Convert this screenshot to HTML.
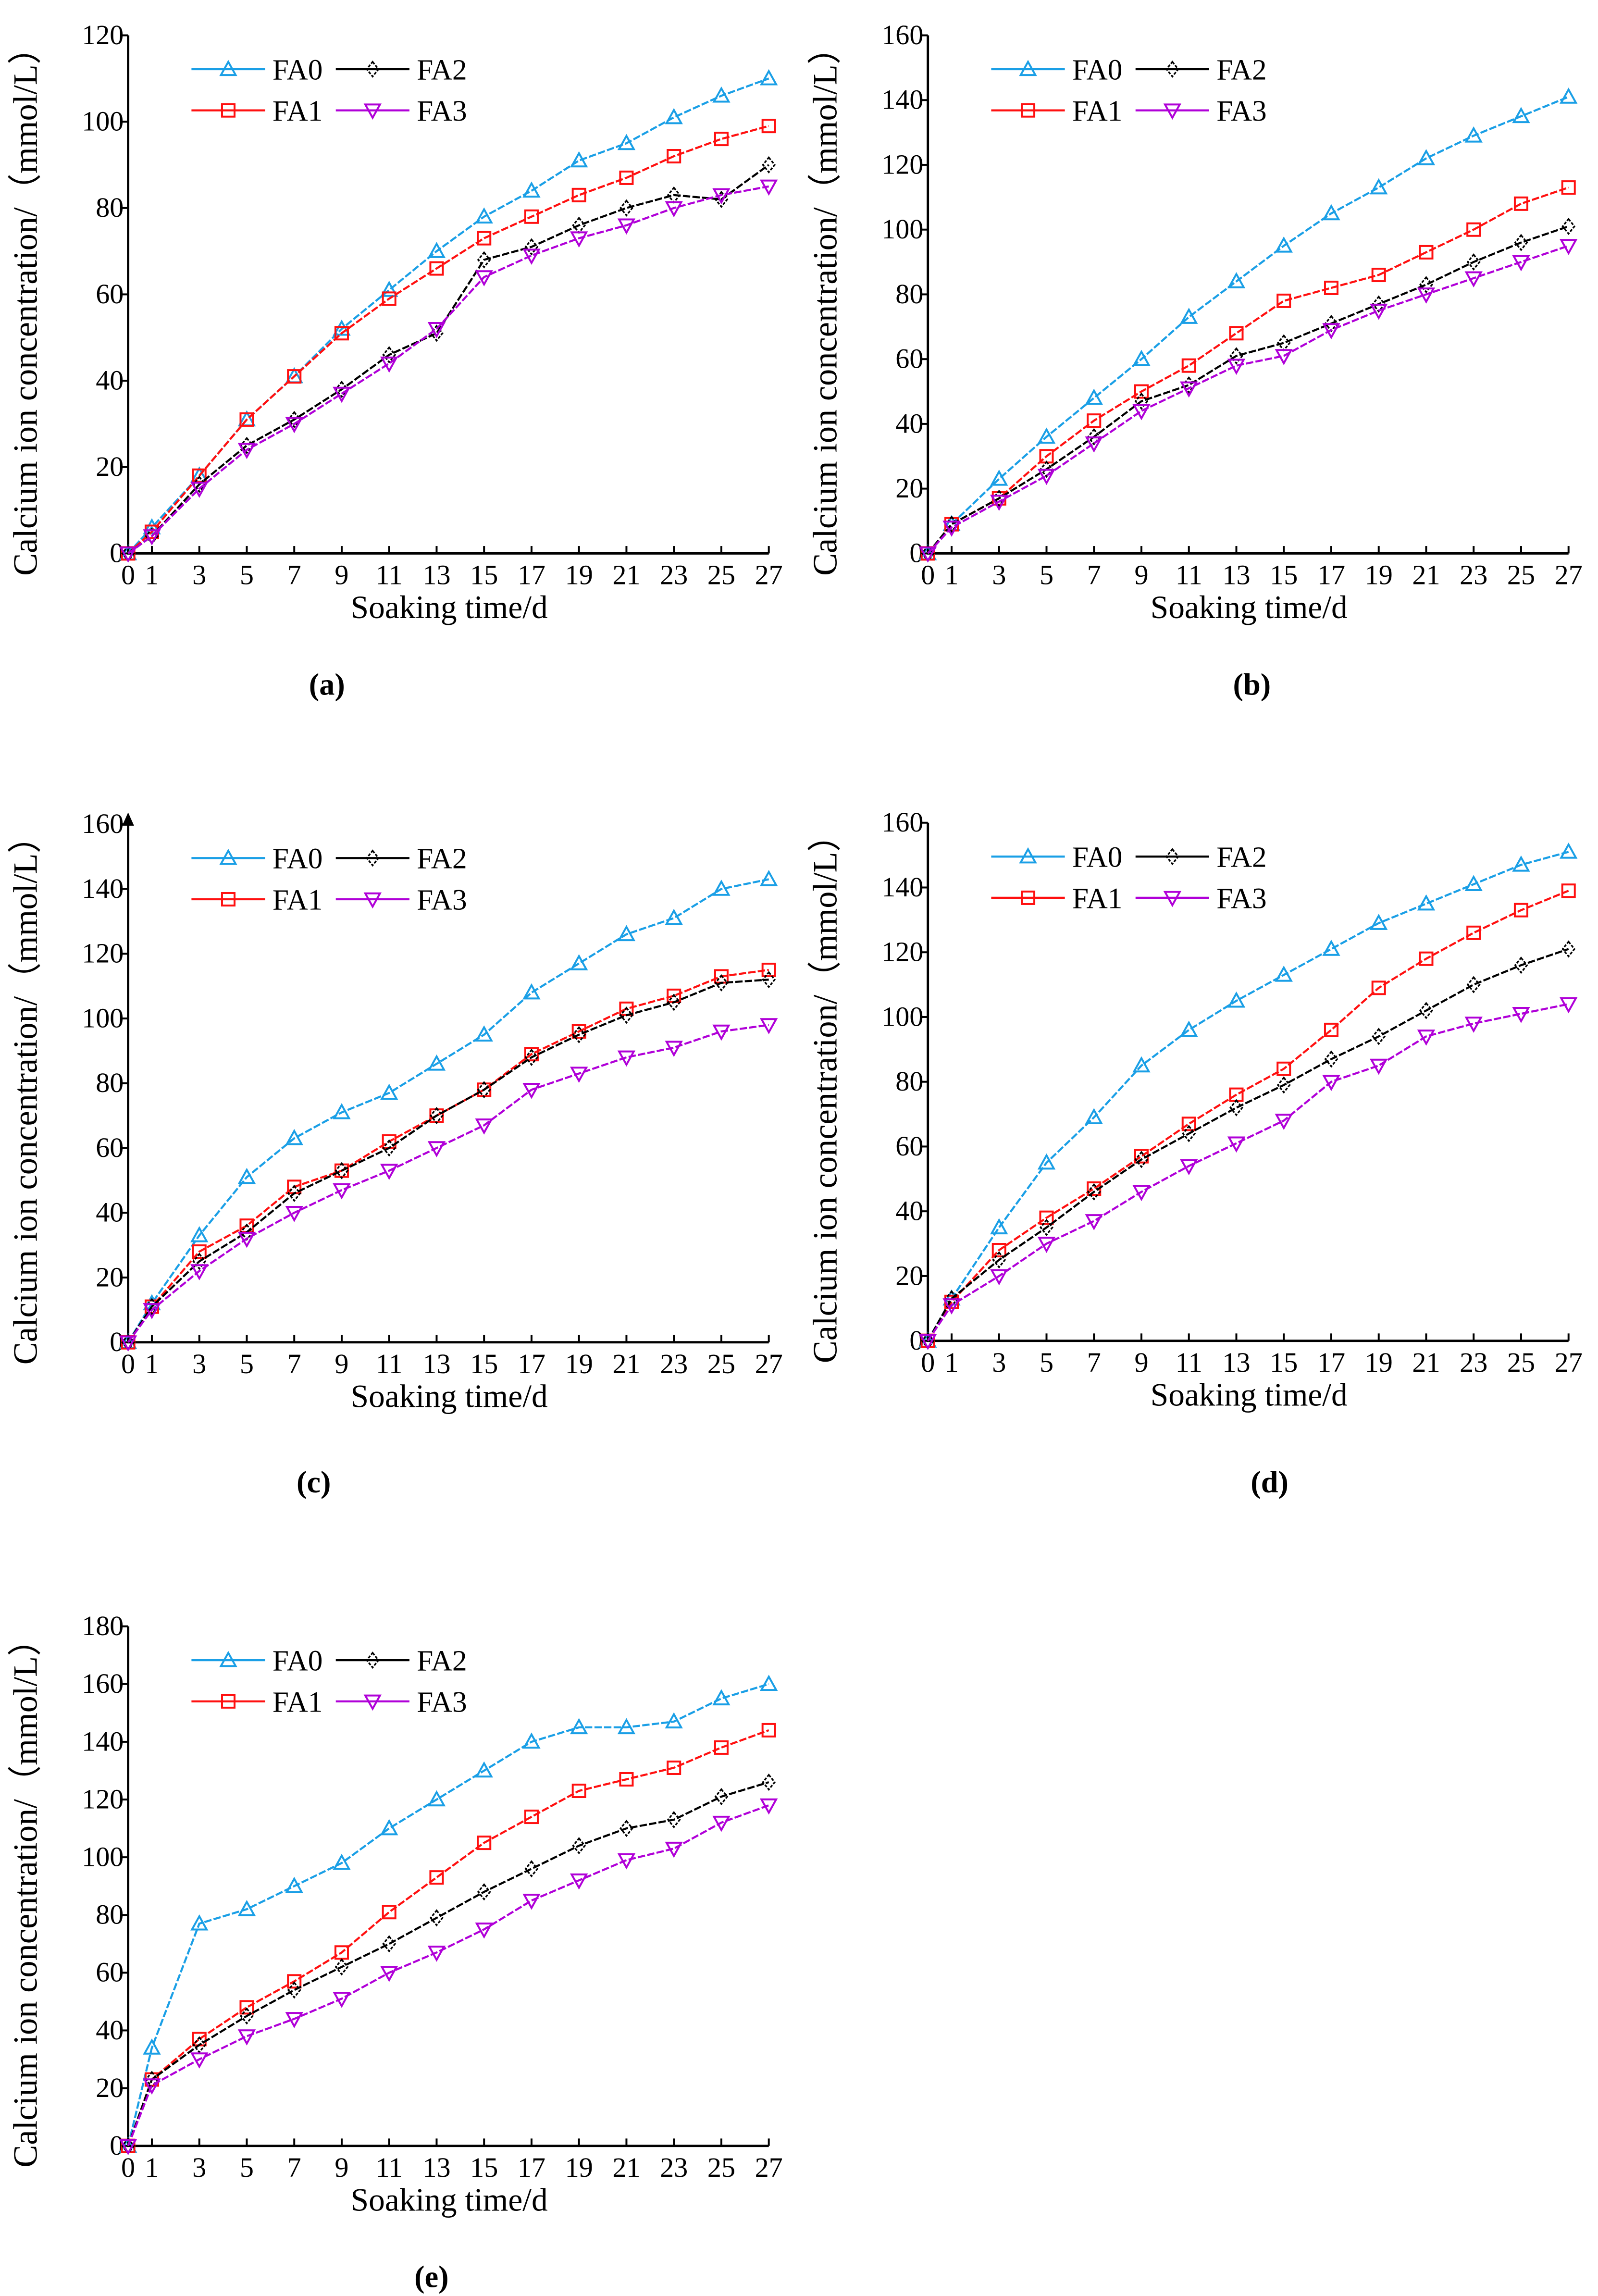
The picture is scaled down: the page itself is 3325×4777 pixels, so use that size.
<!DOCTYPE html>
<html><head><meta charset="utf-8"><style>
html,body{margin:0;padding:0;background:#fff;}
svg{display:block;font-family:"Liberation Serif",serif;}
</style></head><body>
<svg id="fig" width="3325" height="4777" viewBox="0 0 1085 1560" preserveAspectRatio="none" xmlns="http://www.w3.org/2000/svg"></svg>
<script>
const days = [0,1,3,5,7,9,11,13,15,17,19,21,23,25,27];
const xTickLabels = ["0","1","3","5","7","9","11","13","15","17","19","21","23","25","27"];
const seriesNames = ["FA0","FA1","FA2","FA3"];
const a_FA0 = [0,6,18,31,41,52,61,70,78,84,91,95,101,106,110];
const a_FA1 = [0,5,18,31,41,51,59,66,73,78,83,87,92,96,99];
const a_FA2 = [0,4,16,25,31,38,46,51,68,71,76,80,83,82,90];
const a_FA3 = [0,4,15,24,30,37,44,52,64,69,73,76,80,83,85];
const b_FA0 = [0,9,23,36,48,60,73,84,95,105,113,122,129,135,141];
const b_FA1 = [0,9,17,30,41,50,58,68,78,82,86,93,100,108,113];
const b_FA2 = [0,9,17,26,36,47,52,61,65,71,77,83,90,96,101];
const b_FA3 = [0,8,16,24,34,44,51,58,61,69,75,80,85,90,95];
const c_FA0 = [0,12,33,51,63,71,77,86,95,108,117,126,131,140,143];
const c_FA1 = [0,11,28,36,48,53,62,70,78,89,96,103,107,113,115];
const c_FA2 = [0,11,25,34,46,53,60,70,78,88,95,101,105,111,112];
const c_FA3 = [0,10,22,32,40,47,53,60,67,78,83,88,91,96,98];
const d_FA0 = [0,13,35,55,69,85,96,105,113,121,129,135,141,147,151];
const d_FA1 = [0,12,28,38,47,57,67,76,84,96,109,118,126,133,139];
const d_FA2 = [0,13,25,35,46,56,64,72,79,87,94,102,110,116,121];
const d_FA3 = [0,11,20,30,37,46,54,61,68,80,85,94,98,101,104];
const e_FA0 = [0,34,77,82,90,98,110,120,130,140,145,145,147,155,160];
const e_FA1 = [0,23,37,48,57,67,81,93,105,114,123,127,131,138,144];
const e_FA2 = [0,23,35,45,54,62,70,79,88,96,104,110,113,121,126];
const e_FA3 = [0,21,30,38,44,51,60,67,75,85,92,99,103,112,118];
const yTicksA = [0,20,40,60,80,100,120];
const yTicksB = [0,20,40,60,80,100,120,140,160];
const yTicksE = [0,20,40,60,80,100,120,140,160,180];

const NS="http://www.w3.org/2000/svg";
const svg=document.getElementById('fig');
const colors=["#1a9fe6","#ff1010","#000000","#b000d8"];
function mk(tag,attrs,parent){const e=document.createElementNS(NS,tag);for(const k in attrs)e.setAttribute(k,attrs[k]);(parent||svg).appendChild(e);return e;}
function marker(g,k,x,y){
  const s=5,c=colors[k];let e;
  if(k===0)e=mk('polygon',{points:`${x},${y-s} ${x-s},${y+s*0.8} ${x+s},${y+s*0.8}`,fill:'none',stroke:c,'stroke-width':1.3},g);
  else if(k===1)e=mk('rect',{x:x-s*0.85,y:y-s*0.85,width:s*1.7,height:s*1.7,fill:'none',stroke:c,'stroke-width':1.3},g);
  else if(k===2)e=mk('polygon',{points:`${x},${y-s} ${x+s*0.8},${y} ${x},${y+s} ${x-s*0.8},${y}`,fill:'none',stroke:c,'stroke-width':1.1,'stroke-dasharray':'2 1'},g);
  else e=mk('polygon',{points:`${x},${y+s} ${x-s},${y-s*0.8} ${x+s},${y-s*0.8}`,fill:'none',stroke:c,'stroke-width':1.3},g);
  
  
}
function panel(id,x0,yTop,yBot,yMax,yTicks,series,capX,capY,arrow){
  const x1=x0+435;
  const g=mk('g',{});
  
  
  const X=d=>x0+(x1-x0)*d/27;
  const Y=v=>yBot-(yBot-yTop)*v/yMax;
  const ax=mk('path',{d:`M${x0},${yTop} L${x0},${yBot} L${x1},${yBot}`,fill:'none',stroke:'#000','stroke-width':1.6},g);
  
  
  if(arrow){const ar=mk('polygon',{points:`${x0},${yTop-8} ${x0-4},${yTop+1} ${x0+4},${yTop+1}`,fill:'#000'},g);
    }
  yTicks.forEach(v=>{
    mk('line',{x1:x0-5,x2:x0,y1:Y(v),y2:Y(v),stroke:'#000','stroke-width':1.3},g);
    const t=mk('text',{x:x0-3,y:Y(v)+6,'text-anchor':'end','font-size':19},g);t.textContent=v;
    
  });
  days.forEach((d,i)=>{
    mk('line',{x1:X(d),x2:X(d),y1:yBot,y2:yBot-5,stroke:'#000','stroke-width':1.3},g);
    const t=mk('text',{x:X(d),y:yBot+21,'text-anchor':'middle','font-size':19},g);t.textContent=xTickLabels[i];
    
  });
  const xt=mk('text',{x:x0+218,y:yBot+44,'text-anchor':'middle','font-size':22},g);xt.textContent='Soaking time/d';
  
  const yc=(yTop+yBot)/2+6;
  const yt=mk('text',{x:x0-62,y:yc,'text-anchor':'middle','font-size':23,transform:`rotate(-90 ${x0-62} ${yc})`},g);
  yt.textContent='Calcium ion concentration/（mmol/L）';
  
  series.forEach((vals,k)=>{
    const pts=vals.map((v,i)=>`${X(days[i])},${Y(v)}`).join(' ');
    const pl=mk('polyline',{points:pts,fill:'none',stroke:colors[k],'stroke-width':1.4,'stroke-dasharray':'5 1.5'},g);
    
    
    vals.forEach((v,i)=>marker(g,k,X(days[i]),Y(v)));
  });
  const lg=mk('g',{},g);
  
  
  const lx=[x0+43,x0+43,x0+141,x0+141], ly=[yTop+23,yTop+51,yTop+23,yTop+51];
  seriesNames.forEach((n,k)=>{
    mk('line',{x1:lx[k],x2:lx[k]+50,y1:ly[k],y2:ly[k],stroke:colors[k],'stroke-width':1.4},lg);
    marker(lg,k,lx[k]+25,ly[k]);
    const t=mk('text',{x:lx[k]+55,y:ly[k]+7,'font-size':20},lg);t.textContent=n;
    
  });
  const cap=mk('text',{x:capX,y:capY,'text-anchor':'middle','font-size':21,'font-weight':'bold'},g);cap.textContent='('+id+')';
  
}
panel('a',87,24,376,120,yTicksA,[a_FA0,a_FA1,a_FA2,a_FA3],222,472,false);
panel('b',630,24,376,160,yTicksB,[b_FA0,b_FA1,b_FA2,b_FA3],850,472,false);
panel('c',87,560,912,160,yTicksB,[c_FA0,c_FA1,c_FA2,c_FA3],213,1014,true);
panel('d',630,559,911,160,yTicksB,[d_FA0,d_FA1,d_FA2,d_FA3],862,1014,false);
panel('e',87,1105,1458,180,yTicksE,[e_FA0,e_FA1,e_FA2,e_FA3],293,1554,false);
</script>
</body></html>
